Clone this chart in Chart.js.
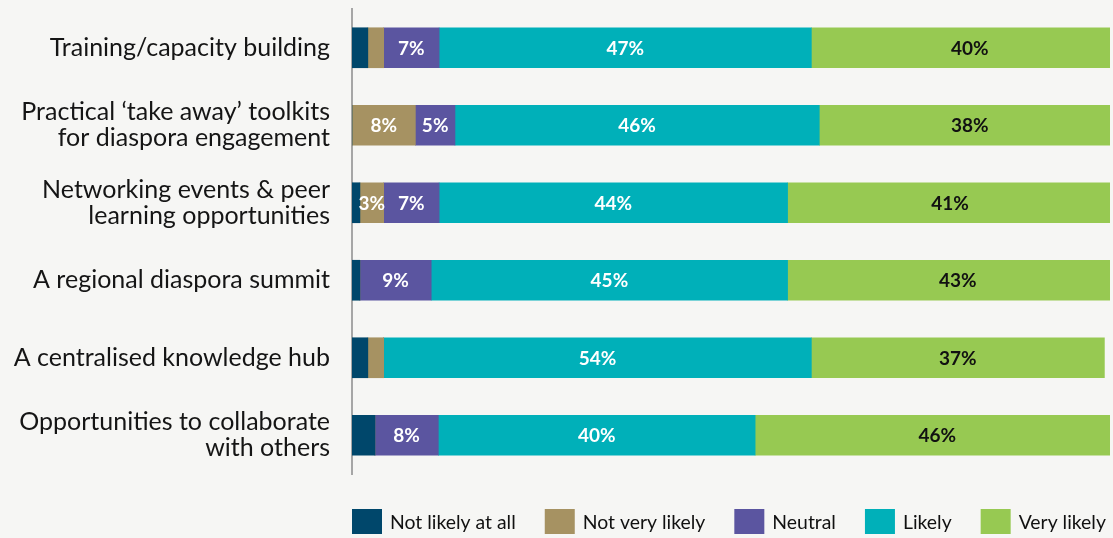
<!DOCTYPE html>
<html>
<head>
<meta charset="utf-8">
<script src="https://cdn.jsdelivr.net/npm/chart.js@4/dist/chart.umd.min.js"></script>
<style>
  html, body { margin: 0; padding: 0; background: #f6f6f4; }
  #wrap { width: 1110px; height: 538px; overflow: hidden; }
  canvas { display: block; }
</style>
</head>
<body>
<div id="wrap"><canvas id="c" width="1150" height="538"></canvas></div>
<script>
// Survey: how likely respondents are to use each kind of support (% of respondents)
const categories = [
  'Training/capacity building',
  ['Practical \u2018take away\u2019 toolkits', 'for diaspora engagement'],
  ['Networking events & peer', 'learning opportunities'],
  'A regional diaspora summit',
  'A centralised knowledge hub',
  ['Opportunities to collaborate', 'with others']
];
const seriesNames = ['Not likely at all', 'Not very likely', 'Neutral', 'Likely', 'Very likely'];
const notLikelyAtAll = [2, 0, 1, 1, 2, 2.9];
const notVeryLikely  = [2, 8, 3, 0, 2, 0];
const neutral        = [7, 5, 7, 9, 0, 8];
const likely         = [47, 46, 44, 45, 54, 40];
const veryLikely     = [40, 38, 41, 43, 37, 46];
const seriesColors = ['#00476b', '#a69262', '#5b55a0', '#00b0b9', '#97c952'];
const labelColors  = ['#ffffff', '#ffffff', '#ffffff', '#ffffff', '#111111'];
const seriesValues = [notLikelyAtAll, notVeryLikely, neutral, likely, veryLikely];

const FONT = 'Lato, "Noto Sans", sans-serif';

// Percent labels centred in each segment (small slivers left unlabelled)
const segmentLabels = {
  id: 'segmentLabels',
  afterDatasetsDraw(chart) {
    const ctx = chart.ctx;
    ctx.save();
    ctx.font = 'bold 19px ' + FONT;
    ctx.textAlign = 'center';
    ctx.textBaseline = 'middle';
    chart.data.datasets.forEach((ds, di) => {
      const meta = chart.getDatasetMeta(di);
      meta.data.forEach((bar, i) => {
        const v = ds.data[i];
        if (v < 3) return;
        const p = bar.getCenterPoint();
        ctx.fillStyle = labelColors[di];
        ctx.fillText(Math.round(v) + '%', p.x, p.y + 1);
      });
    });
    ctx.restore();
  }
};

// Legend row starting at the left edge of the plot area
const legendRow = {
  id: 'legendRow',
  afterDraw(chart) {
    const ctx = chart.ctx;
    const area = chart.chartArea;
    ctx.save();
    ctx.font = '19.4px ' + FONT;
    ctx.textBaseline = 'middle';
    ctx.textAlign = 'left';
    let x = area.left;
    const top = area.bottom + 35;
    const boxW = 30, boxH = 25, gap = 8, itemGap = 29;
    chart.data.datasets.forEach((ds) => {
      ctx.fillStyle = ds.backgroundColor;
      ctx.fillRect(x, top, boxW, boxH);
      ctx.fillStyle = '#111111';
      ctx.fillText(ds.label, x + boxW + gap, top + boxH / 2 + 1);
      x += boxW + gap + ctx.measureText(ds.label).width + itemGap;
    });
    ctx.restore();
  }
};

new Chart(document.getElementById('c'), {
  type: 'bar',
  data: {
    labels: categories,
    datasets: seriesNames.map((name, k) => ({
      label: name,
      data: seriesValues[k],
      backgroundColor: seriesColors[k],
      borderWidth: 0,
      barThickness: 40
    }))
  },
  options: {
    indexAxis: 'y',
    responsive: false,
    animation: false,
    layout: { padding: { top: 9, bottom: 64, right: 6, left: 0 } },
    plugins: {
      legend: { display: false },
      tooltip: { enabled: false }
    },
    scales: {
      x: {
        stacked: true,
        min: 0,
        max: 100,
        display: false
      },
      y: {
        stacked: true,
        grid: { display: false, drawTicks: false },
        border: { display: true, color: '#a6a6a6', width: 2 },
        ticks: {
          color: '#151515',
          padding: 22,
          font: { family: FONT, size: 25, lineHeight: 1.04 }
        },
        afterFit(scale) {
          scale.width = 352;
          scale.paddingTop = 0;
          scale.paddingBottom = 0;
        }
      }
    }
  },
  plugins: [segmentLabels, legendRow]
});
</script>
</body>
</html>
